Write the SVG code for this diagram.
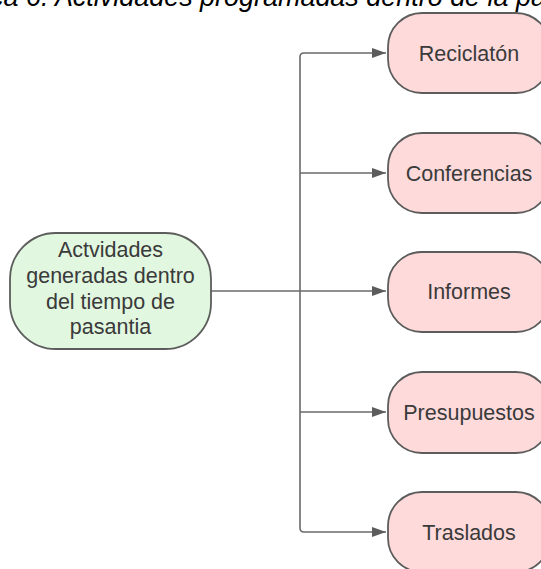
<svg xmlns="http://www.w3.org/2000/svg" width="541" height="569" viewBox="0 0 541 569">
<defs>
<style>
.title{font-family:"Liberation Sans",Arial,sans-serif;font-style:italic;font-size:27px;fill:#000}
.lbl{font-family:"Liberation Sans",Arial,sans-serif;font-size:21.5px;fill:#3a3a3a;text-anchor:middle}
.main{fill:#e2f7e0;stroke:#5c5c5c;stroke-width:1.8}
.leaf{fill:#ffdadb;stroke:#5c5c5c;stroke-width:1.8}
.conn{fill:none;stroke:#6a6a6a;stroke-width:1.6}
</style>
<marker id="arr" viewBox="0 0 14 10" refX="14" refY="5" markerWidth="14" markerHeight="10" markerUnits="userSpaceOnUse" orient="auto">
<path d="M0,0 L14,5 L0,10 Z" fill="#5c5c5c"/>
</marker>
</defs>
<rect width="541" height="569" fill="#ffffff"/>
<text class="title" x="-10" y="6" textLength="556" lengthAdjust="spacingAndGlyphs">ca 6. Actividades programadas dentro de la pa</text>
<g id="connectors">
<path class="conn" d="M211,291 H300"/>
<path class="conn" d="M300,291 V57 Q300,53 304,53 H386" marker-end="url(#arr)"/>
<path class="conn" d="M300,173 H386" marker-end="url(#arr)"/>
<path class="conn" d="M300,291 H386" marker-end="url(#arr)"/>
<path class="conn" d="M300,412 H386" marker-end="url(#arr)"/>
<path class="conn" d="M300,291 V528 Q300,532 304,532 H386" marker-end="url(#arr)"/>
</g>
<g id="n-main">
<rect class="main" x="10" y="233" width="201" height="116" rx="46" ry="46"/>
<text class="lbl" x="110.5" y="257">Actvidades</text>
<text class="lbl" x="110.5" y="283">generadas dentro</text>
<text class="lbl" x="110.5" y="309">del tiempo de</text>
<text class="lbl" x="110.5" y="334">pasantia</text>
</g>
<g id="n-reciclaton">
<rect class="leaf" x="388" y="13" width="162" height="80" rx="34" ry="34"/>
<text class="lbl" x="469" y="61">Reciclatón</text>
</g>
<g id="n-conferencias">
<rect class="leaf" x="388" y="133" width="162" height="80" rx="34" ry="34"/>
<text class="lbl" x="469" y="181">Conferencias</text>
</g>
<g id="n-informes">
<rect class="leaf" x="388" y="252" width="162" height="80" rx="34" ry="34"/>
<text class="lbl" x="469" y="299">Informes</text>
</g>
<g id="n-presupuestos">
<rect class="leaf" x="388" y="372" width="162" height="81" rx="34" ry="34"/>
<text class="lbl" x="469" y="420">Presupuestos</text>
</g>
<g id="n-traslados">
<rect class="leaf" x="388" y="492" width="162" height="80" rx="34" ry="34"/>
<text class="lbl" x="469" y="540">Traslados</text>
</g>
</svg>
